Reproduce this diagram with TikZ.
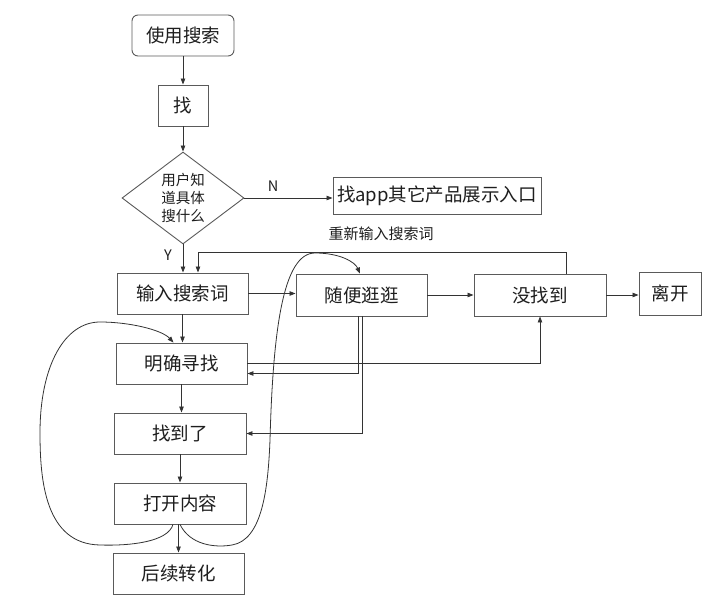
\documentclass[tikz,border=0pt]{standalone}
\usepackage{fontspec}
\setmainfont{Noto Sans CJK SC}
\usetikzlibrary{arrows.meta,shapes.geometric,calc}
\definecolor{boxc}{HTML}{5A5A5A}
\definecolor{linec}{HTML}{333333}
\definecolor{txtc}{HTML}{1E1E1E}
\begin{document}
\begin{tikzpicture}[x=1pt,y=-1pt,
  box/.style={draw=boxc,line width=0.9pt,fill=white,inner sep=0pt,text=txtc,font=\fontsize{18.5}{21}\selectfont},
  lbl/.style={inner sep=0pt,text=txtc},
  arr/.style={draw=linec,line width=0.8pt,-{Triangle[length=6pt,width=4.5pt]}},
  ln/.style={draw=linec,line width=0.8pt}]
\useasboundingbox (0,0) rectangle (720,604);
% nodes
\node[box,rounded corners=6pt,minimum width=102pt,minimum height=41pt] (start) at (183,35.5) {使用搜索};
\node[box,minimum width=50pt,minimum height=41pt] (zhao) at (183,105.5) {找};
\node[draw=boxc,line width=0.9pt,fill=white,shape=diamond,aspect=1.33,minimum width=122pt,minimum height=92pt,inner sep=0pt,align=center,text=txtc,font=\fontsize{14.5}{18}\selectfont] (dia) at (183,198) {用户知\\道具体\\搜什么};
\node[box,minimum width=208pt,minimum height=37pt] (other) at (437,195.5) {找app其它产品展示入口};
\node[box,minimum width=131pt,minimum height=41pt] (sr) at (182.5,293.5) {输入搜索词};
\node[box,minimum width=131pt,minimum height=42pt] (sb) at (361.5,295) {随便逛逛};
\node[box,minimum width=132pt,minimum height=42pt] (mbz) at (540,295) {没找到};
\node[box,minimum width=62pt,minimum height=43pt] (lk) at (670,293.5) {离开};
\node[box,minimum width=131pt,minimum height=41pt] (mq) at (181.5,363.5) {明确寻找};
\node[box,minimum width=132pt,minimum height=41pt] (zd) at (180,433.5) {找到了};
\node[box,minimum width=132pt,minimum height=41pt] (open) at (180,503.5) {打开内容};
\node[box,minimum width=131pt,minimum height=41pt] (hx) at (178.5,573.5) {后续转化};
% labels
\node[lbl,font=\fontsize{14.5}{16}\selectfont] (nl) at (273,186) {N};
\node[lbl,font=\fontsize{14.5}{16}\selectfont] (yl) at (168,255) {Y};
\node[lbl,font=\fontsize{15}{16}\selectfont] (rl) at (381,234) {重新输入搜索词};
\coordinate (loopy) at (0,252);
% connectors
\draw[arr] (start.south) -- (start.south |- zhao.north);
\draw[arr] (zhao.south) -- (zhao.south |- dia.north);
\draw[arr] (dia.east) -- (dia.east -| other.west);
\draw[arr] (dia.south) -- (dia.south |- sr.north);
\draw[arr] ([xshift=26pt]mbz.north) -- ([xshift=26pt]mbz.north |- loopy) -| ([xshift=15.5pt]sr.north);
\draw[arr] (sr.east) -- (sr.east -| sb.west);
\draw[arr] (sb.east) -- (sb.east -| mbz.west);
\draw[arr] (mbz.east) -- (mbz.east -| lk.west);
\draw[arr] (sr.south) -- (sr.south |- mq.north);
\draw[arr] (mq.south) -- (mq.south |- zd.north);
\draw[arr] (zd.south) -- (zd.south |- open.north);
\draw[arr] ([xshift=-1.5pt]open.south) -- ([xshift=-1.5pt]open.south |- hx.north);
\draw[arr] (mq.east) -| (mbz.south);
\draw[arr] ([xshift=-3pt]sb.south) |- ([yshift=-10pt]mq.east);
\draw[arr] ([xshift=1pt]sb.south) |- (zd.east);
% curves
\draw[arr] ([xshift=-7pt]open.south) .. controls (168,542) and (130,546) .. (100,545)
  .. controls (45,544) and (40,480) .. (40,433)
  .. controls (40,365) and (65,322) .. (100,322)
  .. controls (130,322) and (162,330) .. ([xshift=-8pt]mq.north);
\draw[arr] (open.south) .. controls (190,545) and (215,548) .. (232,545)
  .. controls (262,540) and (268,490) .. (270,440)
  .. controls (273,330) and (283,253) .. (315,253)
  .. controls (340,253) and (355,262) .. ([xshift=-1.5pt]sb.north);
\end{tikzpicture}
\end{document}
